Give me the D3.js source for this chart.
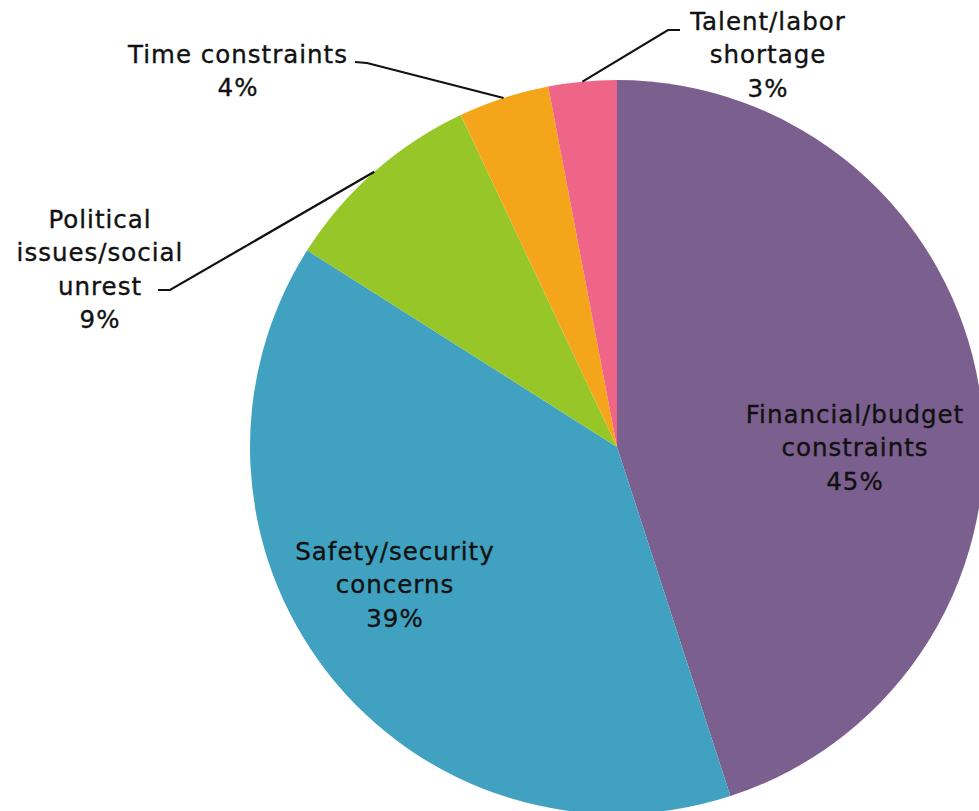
<!DOCTYPE html>
<html>
<head>
<meta charset="utf-8">
<script src="https://cdn.jsdelivr.net/npm/d3@7"></script>
<style>
  html, body { margin: 0; padding: 0; background: #fff; }
  svg { display: block; }
  text { font-family: "DejaVu Sans", "Noto Sans", sans-serif; fill: #111; stroke: #111; stroke-width: 0.35px; }
</style>
</head>
<body>
<svg id="chart" width="979" height="811"></svg>
<script>
// Share of respondents by primary constraint
const categories = [
  "Financial/budget constraints",
  "Safety/security concerns",
  "Political issues/social unrest",
  "Time constraints",
  "Talent/labor shortage"
];
const shares = [45, 39, 9, 4, 3];
const colors = ["#7B5F8E", "#40A1C1", "#97C628", "#F5A51A", "#EF6588"];

// Label lines (text broken the way it is set)
const labelLines = [
  ["Financial/budget", "constraints"],
  ["Safety/security", "concerns"],
  ["Political", "issues/social", "unrest"],
  ["Time constraints"],
  ["Talent/labor", "shortage"]
];

const W = 979, H = 811;
const cx = 617, cy = 447, R = 367;
const lineH = 33.3;

const svg = d3.select("#chart");
const g = svg.append("g").attr("transform", `translate(${cx},${cy})`);

const pie = d3.pie().sort(null).value(d => d.value);
const arc = d3.arc().innerRadius(0).outerRadius(R);

const data = categories.map((c, i) => ({ name: c, value: shares[i], color: colors[i], lines: labelLines[i] }));
const arcs = pie(data);

g.selectAll("path.slice")
  .data(arcs)
  .join("path")
  .attr("class", "slice")
  .attr("d", arc)
  .attr("fill", d => d.data.color);

// label anchors (first baseline, relative to the pie centre) and leader elbows
const layout = [
  { x: 238, y: -24, leader: null },
  { x: -222, y: 113, leader: null },
  { x: -517, y: -219, leader: { elbow: [-447, -157], end: [-459, -157] } },
  { x: -379, y: -384, leader: { elbow: [-250, -384], end: [-262, -385] } },
  { x: 151, y: -417, leader: { elbow: [51, -417], end: [63, -417] } }
];

arcs.forEach((d, i) => {
  const L = layout[i];
  const lines = d.data.lines.concat([d.data.value + "%"]);
  const t = g.append("text")
    .attr("text-anchor", "middle")
    .attr("font-size", 24.5)
    .attr("letter-spacing", 1);
  lines.forEach((s, k) => {
    t.append("tspan")
      .attr("x", L.x)
      .attr("y", L.y + k * lineH)
      .text(s);
  });
  if (L.leader) {
    // leader starts on the rim at the slice's mid angle
    const mid = (d.startAngle + d.endAngle) / 2;
    const p0 = [R * Math.sin(mid), -R * Math.cos(mid)];
    g.append("polyline")
      .attr("points", [p0, L.leader.elbow, L.leader.end].map(p => p.join(",")).join(" "))
      .attr("fill", "none")
      .attr("stroke", "#111")
      .attr("stroke-width", 2.2);
  }
});
</script>
</body>
</html>
